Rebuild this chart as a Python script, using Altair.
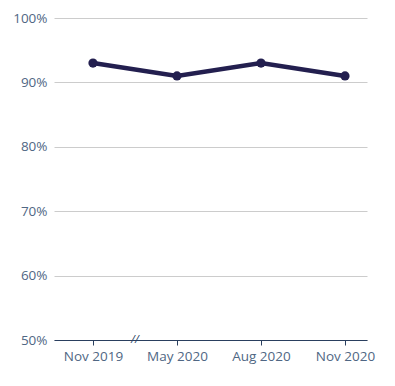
import altair as alt
import pandas as pd

labels = ["Nov 2019", "May 2020", "Aug 2020", "Nov 2020"]
positions = [0, 1, 2, 3]
values = [93, 91, 93, 91]

df = pd.DataFrame({"pos": positions, "label": labels, "value": values})
brk = pd.DataFrame({"pos": [0.5], "value": [50], "t": ["//"]})

label_expr = "datum.value == 0 ? 'Nov 2019' : datum.value == 1 ? 'May 2020' : datum.value == 2 ? 'Aug 2020' : 'Nov 2020'"

x = alt.X("pos:Q", scale=alt.Scale(domain=[-0.464, 3.262], nice=False, zero=False),
          axis=alt.Axis(values=positions, labelExpr=label_expr, title=None, grid=False,
                        domainColor="#2a3f5f", tickColor="#2a3f5f", tickSize=5,
                        labelColor="#506784", labelFont="Open Sans", labelFontSize=13.5,
                        labelPadding=4, domainWidth=1))
y = alt.Y("value:Q", scale=alt.Scale(domain=[50, 100], nice=False, zero=False),
          axis=alt.Axis(values=[50, 60, 70, 80, 90, 100], labelExpr="datum.value + '%'", title=None,
                        domain=False, ticks=False, gridColor="#cccccc",
                        labelColor="#506784", labelFont="Open Sans", labelFontSize=13.5,
                        labelPadding=7))

line = alt.Chart(df).mark_line(color="#231f4f", strokeWidth=4.5).encode(x=x, y=y)
pts = alt.Chart(df).mark_point(color="#231f4f", filled=True, size=85, opacity=1).encode(x=x, y=y)
brk_mark = alt.Chart(brk).mark_text(text="//", color="#2a3f5f", fontSize=11, font="Open Sans",
                                     fontStyle="italic").encode(x=x, y=y)

chart = alt.layer(line, pts, brk_mark).properties(
    width=313, height=322,
    autosize=alt.AutoSizeParams(type="none"),
    padding={"left": 46, "top": 10, "right": 20, "bottom": 40},
).configure_view(stroke=None)

chart.save("out.html", embed_options={"renderer": "svg", "actions": False})
